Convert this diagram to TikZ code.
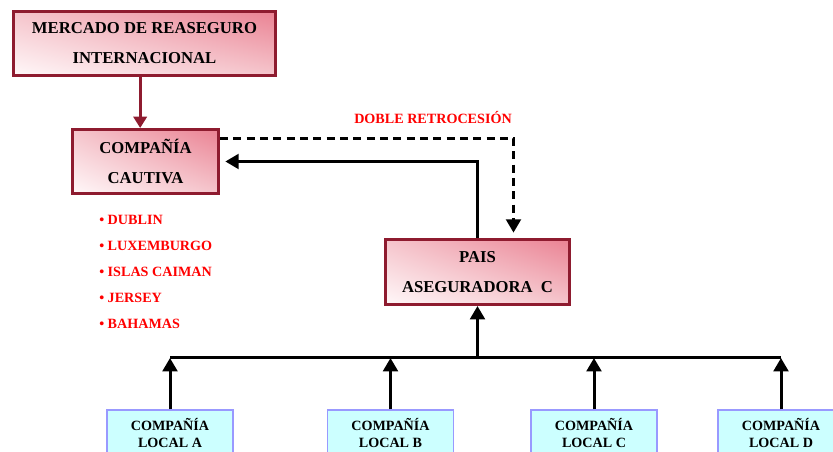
\documentclass[tikz,border=0pt]{standalone}
\usepackage{fontspec}
\setmainfont{Liberation Serif}
\usepackage{tikz}
\usetikzlibrary{arrows.meta,shadings}

\definecolor{borde}{HTML}{8E1B2F}
\definecolor{rosa}{HTML}{EA8293}
\definecolor{rosaclaro}{HTML}{F5C5CC}
\definecolor{blanco}{HTML}{FFF8F9}
\definecolor{cian}{HTML}{CCFFFF}
\definecolor{lila}{HTML}{9999FF}

\begin{document}
\begin{tikzpicture}[x=0.75pt, y=-0.75pt,
    caja/.style={draw=borde, line width=2.25pt, shade, upper right=rosa,
      upper left=rosaclaro, lower right=rosaclaro, lower left=blanco,
      align=center, inner sep=0pt, font=\fontsize{12.5}{22.5}\selectfont\bfseries},
    local/.style={draw=lila, line width=1.1pt, fill=cian, align=center, inner sep=0pt,
      minimum width=94.5pt, minimum height=34.5pt, font=\fontsize{10.6}{12.75}\selectfont\bfseries},
    flecha/.style={line width=2.25pt, -{Triangle[width=11pt,length=10pt]}},
    linea/.style={line width=2.25pt},
    rojo/.style={text=red, font=\fontsize{10.6}{12}\selectfont\bfseries}]
  \useasboundingbox (0,0) rectangle (833,452);

  % cajas principales
  \node[caja, minimum width=196.5pt, minimum height=48pt] (mercado) at (144.5,43.5)
    {MERCADO DE REASEGURO\\INTERNACIONAL};
  \node[caja, minimum width=109.5pt, minimum height=48pt] (cautiva) at (145.5,161.5)
    {COMPAÑÍA\\CAUTIVA};
  \node[caja, minimum width=138pt, minimum height=48.75pt] (pais) at (477.5,272)
    {PAIS\\ASEGURADORA~~C};

  % companias locales
  \foreach \nm/\x/\l in {locA/170/A, locB/390.5/B, locC/594/C, locD/781/D}
    \node[local] (\nm) at (\x,433) {COMPAÑÍA\\LOCAL \l};

  \node[rojo] (retro) at (433,118) {DOBLE RETROCESIÓN};
  \foreach \nm/\txt [count=\i] in {dublin/DUBLIN, luxemburgo/LUXEMBURGO,
      caiman/ISLAS CAIMAN, jersey/JERSEY, bahamas/BAHAMAS}
    \node[rojo, anchor=base west, inner sep=0pt] (\nm) at ({99},{199+26*\i}) {• \txt};

  % conexiones
  \draw[line width=2pt, draw=borde, -{Triangle[width=10pt,length=8.5pt]}]
    ([xshift=-4pt]cautiva.north |- mercado.south) -- ([xshift=-4pt]cautiva.north);
  \draw[flecha, dash pattern=on 6pt off 4pt, shorten >=4pt]
    ([yshift=17.5pt]cautiva.east) -| ([xshift=27pt]pais.north);
  \draw[flecha, shorten >=4pt] (pais.north) |- (cautiva.east);

  \coordinate (bus) at (0,358);
  \draw[linea] (locA.north |- bus) -- (locD.north |- bus);
  \foreach \nm in {locA,locB,locC,locD}
    \draw[flecha] (\nm) -- (\nm.north |- bus);
  \draw[flecha] (pais.south |- bus) -- (pais);
\end{tikzpicture}
\end{document}
